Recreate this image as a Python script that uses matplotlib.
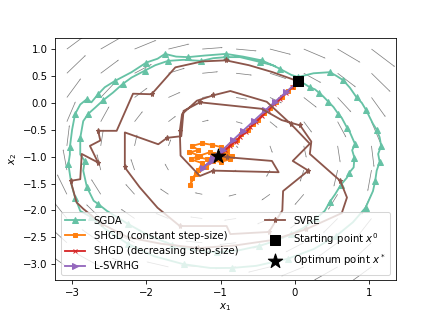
import matplotlib
matplotlib.use('Agg')
import matplotlib.pyplot as plt
from matplotlib.ticker import MultipleLocator
import numpy as np

# optimum and starting point
x_opt = [-1.04, -0.98]
x_start = [0.045, 0.40]

# grid of the vector field (clockwise rotation around the optimum)
grid_x = np.linspace(-3.07, 1.03, 10)
grid_y = np.linspace(-3.05, 1.0, 10)

sgda_x = [0.045, 0.12, 0.20, 0.27, 0.33, 0.38, 0.45, 0.52, 0.58, 0.63, 0.70, 0.74, 0.81, 0.77, 0.80,
          0.79, 0.73, 0.70, 0.62, 0.54, 0.47, 0.40, 0.28, 0.12, -0.05, -0.25, -0.48, -0.75, -1.05,
          -1.35, -1.65, -1.95, -2.25, -2.53, -2.65, -2.71, -2.80, -2.85, -2.83, -2.89, -2.89, -2.85,
          -2.78, -2.69, -2.58, -2.45, -2.32, -2.20, -2.02, -1.88, -1.71, -1.50, -1.26, -1.10, -0.93,
          -0.74, -0.47, -0.30, -0.20, -0.05, 0.04,
          0.25, 0.47, 0.56, 0.65, 0.74, 0.83, 0.90, 0.96, 1.05, 1.10, 1.14, 1.16, 1.12, 1.14, 1.10,
          1.08, 1.05, 0.95, 0.78, 0.55, 0.25, -0.10, -0.52, -0.85, -1.14, -1.50, -1.90, -2.25, -2.55,
          -2.75, -2.89, -2.96, -3.01, -3.05, -3.03, -3.03, -3.00, -2.96, -2.89, -2.80, -2.74, -2.65,
          -2.56, -2.42, -2.20, -2.00, -1.85, -1.75, -1.60, -1.44, -1.21, -0.93, -0.70, -0.45, -0.27]
sgda_y = [0.40, 0.36, 0.29, 0.25, 0.18, 0.12, 0.02, -0.08, -0.20, -0.28, -0.46, -0.55, -0.77, -0.88,
          -1.02, -1.20, -1.30, -1.39, -1.52, -1.70, -1.84, -2.01, -2.15, -2.32, -2.44, -2.56, -2.66,
          -2.74, -2.78, -2.74, -2.64, -2.48, -2.25, -2.01, -1.88, -1.82, -1.57, -1.26, -1.08, -0.96,
          -0.65, -0.34, -0.20, -0.09, 0.05, 0.19, 0.35, 0.47, 0.60, 0.70, 0.78, 0.80, 0.78, 0.83, 0.85,
          0.85, 0.76, 0.70, 0.63, 0.52, 0.48,
          0.55, 0.57, 0.50, 0.42, 0.28, 0.10, 0.00, -0.14, -0.39, -0.50, -0.64, -0.80, -0.95, -1.10,
          -1.26, -1.45, -1.64, -1.95, -2.22, -2.48, -2.72, -2.90, -3.03, -3.07, -3.07, -3.00, -2.85,
          -2.62, -2.35, -2.12, -2.01, -1.76, -1.51, -1.14, -0.96, -0.83, -0.50, -0.21, -0.03, 0.07,
          0.01, 0.16, 0.29, 0.41, 0.57, 0.75, 0.82, 0.91, 0.86, 0.85, 0.88, 0.91, 0.86, 0.79, 0.68]

shgd_c_x = [0.045, -0.02, -0.10, -0.17, -0.26, -0.33, -0.42, -0.50, -0.57, -0.63, -0.72, -0.78, -0.86,
            -0.92, -1.00, -1.12, -1.25, -1.38, -1.30, -1.42, -1.28, -1.15, -1.05, -0.92, -0.88, -1.00,
            -1.18, -1.32, -1.40, -1.25, -1.30, -1.38, -1.41, -1.33, -1.20, -1.10, -0.95, -0.85, -0.98,
            -1.10, -1.03]
shgd_c_y = [0.40, 0.30, 0.22, 0.10, 0.01, -0.10, -0.18, -0.32, -0.40, -0.50, -0.58, -0.70, -0.76,
            -0.86, -0.82, -0.78, -0.75, -0.80, -0.88, -0.92, -0.98, -0.92, -1.02, -0.96, -1.05, -1.10,
            -1.05, -1.00, -1.05, -1.12, -1.25, -1.40, -1.52, -1.32, -1.20, -1.08, -1.02, -0.98, -0.93,
            -0.95, -0.98]

shgd_d_x = [0.045, -0.04, -0.12, -0.20, -0.28, -0.36, -0.44, -0.52, -0.60, -0.66, -0.74, -0.80, -0.88,
            -0.94, -0.98, -1.02, -1.04]
shgd_d_y = [0.40, 0.29, 0.18, 0.08, -0.03, -0.14, -0.24, -0.35, -0.45, -0.55, -0.63, -0.72, -0.80,
            -0.88, -0.93, -0.96, -0.98]

lsvrhg_x = [0.045, -0.12, -0.27, -0.40, -0.55, -0.70, -0.84, -0.97, -1.10, -1.24, -1.12, -1.04]
lsvrhg_y = [0.40, 0.20, 0.02, -0.14, -0.33, -0.52, -0.70, -0.87, -1.03, -1.21, -1.08, -0.98]

svre_x = [0.045, -0.30, -0.62, -0.93, -1.25, -1.61, -1.93, -2.18, -2.40, -2.65, -2.62, -2.76, -2.65,
          -2.87, -2.89, -3.02, -2.94, -2.85, -2.60, -2.25, -1.80, -1.30, -0.80, -0.30, 0.15, 0.63, 0.70,
          0.61, 0.20, 0.22, 0.07, -0.18, -0.45, -1.28, -1.50, -1.53, -1.72, -1.84, -2.29, -2.29, -2.09,
          -1.85, -1.55, -0.92, -0.87, -0.35, -0.17, -0.16, 0.18, -0.03, 0.20, -0.05, -0.38, -0.87,
          -1.10, -1.32, -1.52, -1.55, -1.54, -1.28, -1.10, -0.22, -0.31, -0.92, -1.03]
svre_y = [0.40, 0.57, 0.70, 0.79, 0.77, 0.66, 0.16, 0.17, -0.52, -0.52, -0.70, -0.80, -1.11, -0.95,
          -1.42, -1.45, -1.85, -1.97, -2.25, -2.50, -2.62, -2.70, -2.65, -2.55, -2.35, -2.05, -1.76,
          -1.45, -0.95, -0.72, -0.42, -0.32, -0.11, 0.01, -0.15, -0.62, -0.65, -0.77, -0.55, -1.20,
          -1.57, -1.95, -2.29, -2.29, -2.44, -2.40, -2.00, -1.64, -1.26, -1.08, -0.76, -0.40, 0.02,
          0.22, 0.14, 0.04, -0.21, -0.52, -0.98, -1.36, -1.26, -1.29, -1.08, -1.01, -0.98]

fig, ax = plt.subplots(figsize=(6, 4.296))

gx, gy = np.meshgrid(grid_x, grid_y)
u = gy - x_opt[1]
v = -(gx - x_opt[0])
ax.quiver(gx, gy, u, v, color='0.5', angles='xy', scale_units='width', scale=33,
          width=0.0022, headwidth=2, headlength=2.5, headaxislength=2.2, zorder=1)

lw = 1.8
ax.plot(sgda_x, sgda_y, '-^', color='#66c2a5', lw=lw, ms=5, markevery=2, label='SGDA')
ax.plot(shgd_c_x, shgd_c_y, '-s', color='#ff7f0e', lw=lw, ms=3, label='SHGD (constant step-size)')
ax.plot(shgd_d_x, shgd_d_y, '-x', color='#d62728', lw=lw, ms=4, label='SHGD (decreasing step-size)')
ax.plot(lsvrhg_x, lsvrhg_y, '->', color='#9467bd', lw=lw, ms=5, label='L-SVRHG')
ax.plot(svre_x, svre_y, '-*', color='#8c564b', lw=lw, ms=5, markevery=3, label='SVRE')
ax.scatter([x_start[0]], [x_start[1]], marker='s', s=100, color='black', zorder=5,
           label='Starting point $x^0$')
ax.scatter([x_opt[0]], [x_opt[1]], marker='*', s=220, color='black', zorder=5,
           label='Optimum point $x^*$')

ax.set_xlim(-3.23, 1.36)
ax.set_ylim(-3.3, 1.21)
ax.yaxis.set_major_locator(MultipleLocator(0.5))
ax.set_xlabel('$x_1$')
ax.set_ylabel('$x_2$')
ax.legend(loc='lower center', ncol=2, columnspacing=2.6)

fig.savefig('out.png', dpi=440 / 6)
